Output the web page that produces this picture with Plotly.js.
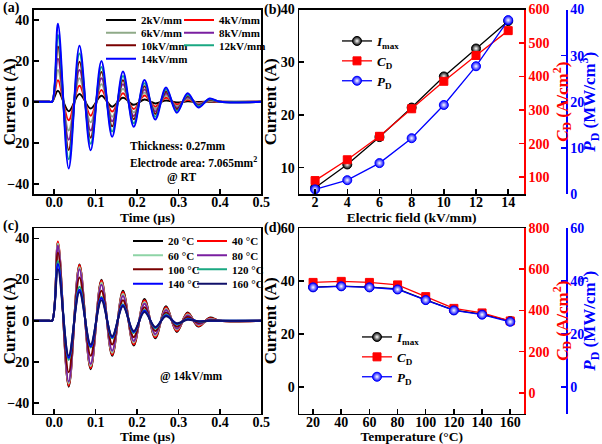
<!DOCTYPE html>
<html>
<head>
<meta charset="utf-8">
<script src="https://cdn.plot.ly/plotly-3.0.1.min.js"></script>
<style>html,body{margin:0;padding:0;background:#fff;}#chart{width:602px;height:444px;}</style>
</head>
<body>
<div id="chart"></div>
<script>
// ---------- data ----------
// times (µs) of the flat start, the successive extrema, and the flat end
const tWave = [-0.05, -0.012, -0.005, 0.009, 0.035, 0.061, 0.088, 0.114, 0.140, 0.166, 0.192, 0.218, 0.244, 0.270, 0.296, 0.322, 0.348, 0.375, 0.40, 0.5];
// panel (a): extrema of the discharge current for each field (A)
const kv2  = [5.4, -4.6, 3.8, -3.3, 2.9, -2.4, 2.0, -1.5, 1.1, -0.8, 0.6, -0.4, 0.2, -0.1, 0];
const kv4  = [10.5, -9.0, 7.8, -6.8, 5.7, -4.8, 4.2, -3.5, 3.0, -2.4, 2.0, -1.4, 1.0, -0.6, 0.3];
const kv6  = [15.5, -14.0, 11.5, -10.0, 8.5, -7.3, 6.3, -5.2, 4.5, -3.5, 3.0, -2.2, 1.6, -1.0, 0.5];
const kv8  = [21.0, -18.5, 15.5, -14.0, 11.5, -9.5, 8.5, -7.0, 6.0, -4.7, 4.0, -3.0, 2.2, -1.4, 0.8];
const kv10 = [27.0, -23.5, 19.5, -17.5, 14.5, -12.0, 10.5, -8.5, 7.5, -6.0, 5.0, -3.7, 2.8, -1.8, 1.0];
const kv12 = [32.5, -28.0, 23.5, -20.5, 17.0, -14.5, 12.5, -10.5, 9.0, -7.3, 6.0, -4.5, 3.3, -2.2, 1.2];
const kv14 = [38.0, -32.5, 27.3, -23.7, 19.9, -17.1, 14.7, -12.2, 10.6, -8.7, 7.0, -5.4, 4.1, -2.8, 1.6];
const fieldNames = ['2kV/mm', '4kV/mm', '6kV/mm', '8kV/mm', '10kV/mm', '12kV/mm', '14kV/mm'];
// panel (c): extrema of the discharge current at 14 kV/mm for each temperature (A)
const c20  = [38.0, -32.0, 27.3, -23.5, 19.9, -17.0, 14.5, -12.0, 10.5, -8.5, 7.0, -5.4, 4.0, -2.8, 1.5];
const c40  = [38.5, -31.5, 27.0, -23.0, 19.5, -16.5, 14.0, -11.5, 10.0, -8.0, 6.5, -5.0, 3.6, -2.5, 1.2];
const c60  = [37.5, -30.5, 26.0, -22.0, 18.5, -15.5, 13.0, -10.5, 9.0, -7.2, 5.8, -4.3, 3.0, -2.0, 0.8];
const c80  = [36.5, -29.5, 25.0, -21.0, 17.5, -14.5, 12.0, -9.8, 8.2, -6.5, 5.2, -3.8, 2.6, -1.6, 0.6];
const c100 = [33.0, -25.0, 21.0, -17.0, 14.5, -11.5, 10.0, -8.0, 6.5, -5.0, 4.0, -2.8, 1.8, -1.0, 0.3];
const c120 = [29.0, -19.0, 16.5, -13.0, 11.5, -8.5, 8.0, -6.0, 5.2, -3.8, 3.0, -1.8, 1.0, -0.4, 0];
const c140 = [27.5, -18.0, 15.0, -12.5, 11.0, -8.0, 7.5, -5.5, 4.8, -3.3, 2.5, -1.4, 0.7, -0.3, 0];
const c160 = [25.0, -17.0, 14.0, -11.5, 10.0, -7.5, 7.0, -5.0, 4.2, -3.0, 2.2, -1.2, 0.5, -0.2, 0];
const tempNames = ['20 °C', '40 °C', '60 °C', '80 °C', '100 °C', '120 °C', '140 °C', '160 °C'];
// panel (b)
const field = [2, 4, 6, 8, 10, 12, 14];
const imaxE = [6.2, 10.6, 15.8, 21.4, 27.3, 32.6, 37.8];
const cdE   = [90, 152, 222, 304, 386, 463, 537];
const pdE   = [1.0, 3.0, 6.7, 12.1, 19.3, 27.7, 37.7];
// panel (d)
const temp  = [20, 40, 60, 80, 100, 120, 140, 160];
const imaxT = [37.7, 38.1, 37.7, 37.0, 32.9, 29.0, 27.5, 24.9];
const cdT   = [536, 541, 536, 524, 467, 410, 388, 349];
const pdT   = [37.6, 38.0, 37.6, 36.8, 32.8, 28.9, 27.3, 24.6];

// ---------- styling ----------
const F = 'Liberation Serif';
const W = 602, H = 444;
const px = v => v / W, py = v => 1 - v / H;
const waveColorsA = ['#000000', '#ff0000', '#8faa88', '#7a1fa0', '#7a0000', '#1aa882', '#0000ff'];
const waveColorsC = ['#000000', '#ff0000', '#8ed4a6', '#7a1fa0', '#7a0000', '#1aa882', '#0000ff', '#10106a'];

function wave(vals) { return [0, 0, 0].concat(vals, [0, 0]); }

const traces = [];
[kv2, kv4, kv6, kv8, kv10, kv12, kv14].forEach((v, i) => {
  traces.push({x: tWave, y: wave(v), xaxis: 'x', yaxis: 'y', type: 'scatter', mode: 'lines',
    line: {color: waveColorsA[i], width: 2, shape: 'spline', smoothing: 1},
    name: fieldNames[i], legend: 'legend' + (i === 0 ? '' : (i + 1))});
});
[c20, c40, c60, c80, c100, c120, c140, c160].forEach((v, i) => {
  traces.push({x: tWave, y: wave(v), xaxis: 'x3', yaxis: 'y5', type: 'scatter', mode: 'lines',
    line: {color: waveColorsC[i], width: 2, shape: 'spline', smoothing: 1},
    name: tempNames[i], legend: 'legend' + (8 + i)});
});
function markerSeries(x, y, xa, ya, name, color, symbol, leg) {
  return {x: x, y: y, xaxis: xa, yaxis: ya, type: 'scatter', mode: 'lines+markers', name: name, legend: leg,
    line: {color: color, width: 1.3},
    marker: {symbol: symbol, size: symbol === 'square' ? 8 : 9, color: color,
             gradient: symbol === 'square' ? undefined : {type: 'radial', color: '#ffffff'},
             line: {color: color, width: 1}}};
}
traces.push(markerSeries(field, imaxE, 'x2', 'y2', '<i>I</i><sub>max</sub>', '#000000', 'circle', 'legend16'));
traces.push(markerSeries(field, cdE, 'x2', 'y3', '<i>C</i><sub>D</sub>', '#ff0000', 'square', 'legend16'));
traces.push(markerSeries(field, pdE, 'x2', 'y4', '<i>P</i><sub>D</sub>', '#0000ff', 'circle', 'legend16'));
traces.push(markerSeries(temp, imaxT, 'x4', 'y6', '<i>I</i><sub>max</sub>', '#000000', 'circle', 'legend17'));
traces.push(markerSeries(temp, cdT, 'x4', 'y7', '<i>C</i><sub>D</sub>', '#ff0000', 'square', 'legend17'));
traces.push(markerSeries(temp, pdT, 'x4', 'y8', '<i>P</i><sub>D</sub>', '#0000ff', 'circle', 'legend17'));

const tickFont = c => ({family: F, size: 14, weight: 'bold', color: c || '#000'});
function axis(o, color) {
  const c = color || '#000';
  const base = {showline: true, linecolor: c, linewidth: 1.5, ticks: 'inside', ticklen: 5, tickwidth: 1.5,
    tickcolor: c, showgrid: false, zeroline: false, tickfont: tickFont(c), automargin: false,
    minor: {ticks: 'inside', ticklen: 3, tickwidth: 1.2, tickcolor: c}};
  const r = Object.assign(base, o);
  if (o.minor) r.minor = Object.assign(base.minor, o.minor);
  return r;
}
const hTitle = (t) => ({text: t, font: {family: F, size: 13.5, weight: 'bold', color: '#000'}, standoff: 0});
const vTitle = (t, c, s) => ({text: t, font: {family: F, size: 17, weight: 'bold', color: c || '#000'}, standoff: s});

const topDom = [py(194), py(9.5)], botDom = [py(413.5), py(228)];
const leftDom = [px(33.5), px(261.3)], rightDom = [px(299), px(524.3)];
const xs = {ticklabelstandoff: -5};

const layout = {
  width: W, height: H, margin: {l: 0, r: 0, t: 0, b: 0},
  paper_bgcolor: '#fff', plot_bgcolor: 'rgba(0,0,0,0)',
  font: {family: F, size: 13, color: '#000'},
  showlegend: true,
  xaxis: axis(Object.assign({domain: leftDom, anchor: 'y', range: [-0.05, 0.5], tick0: 0, dtick: 0.1, tickformat: '.1f', minor: {dtick: 0.05}, mirror: true, title: hTitle('Time (μs)')}, xs)),
  yaxis: axis({domain: topDom, anchor: 'x', range: [-45, 45], tick0: 0, dtick: 20, minor: {dtick: 10}, mirror: true, title: vTitle('Current (A)', '#000', 0)}),
  xaxis2: axis(Object.assign({domain: rightDom, anchor: 'y2', range: [1, 15], tick0: 2, dtick: 2, minor: {dtick: 1}, mirror: true, title: hTitle('Electric field (kV/mm)')}, xs)),
  yaxis2: axis({domain: topDom, anchor: 'x2', range: [5, 40], tick0: 0, dtick: 10, minor: {dtick: 5}, title: vTitle('Current (A)', '#000', 0)}),
  yaxis3: axis({overlaying: 'y2', side: 'right', anchor: 'x2', range: [50, 600], tick0: 0, dtick: 100, minor: {dtick: 50}, title: vTitle('<i>C</i><sub>D</sub> (A/cm<sup>2</sup>)', '#ff0000', 0)}, '#ff0000'),
  yaxis4: axis({overlaying: 'y2', side: 'right', anchor: 'free', position: px(566), range: [0, 40], tick0: 0, dtick: 10, minor: {dtick: 5}, title: vTitle('<i>P</i><sub>D</sub> (MW/cm<sup>3</sup>)', '#0000ff', 0)}, '#0000ff'),
  xaxis3: axis(Object.assign({domain: leftDom, anchor: 'y5', range: [-0.05, 0.5], tick0: 0, dtick: 0.1, tickformat: '.1f', minor: {dtick: 0.05}, mirror: true, title: hTitle('Time (μs)')}, xs)),
  yaxis5: axis({domain: botDom, anchor: 'x3', range: [-45, 45], tick0: 0, dtick: 20, minor: {dtick: 10}, mirror: true, title: vTitle('Current (A)', '#000', 0)}),
  xaxis4: axis(Object.assign({domain: rightDom, anchor: 'y6', range: [10, 170], tick0: 0, dtick: 20, minor: {dtick: 10}, mirror: true, title: hTitle('Temperature (°C)')}, xs)),
  yaxis6: axis({domain: botDom, anchor: 'x4', range: [-10, 60], tick0: 0, dtick: 20, minor: {dtick: 10}, title: vTitle('Current (A)', '#000', 0)}),
  yaxis7: axis({overlaying: 'y6', side: 'right', anchor: 'x4', range: [-100, 800], tick0: 0, dtick: 200, minor: {dtick: 100}, title: vTitle('<i>C</i><sub>D</sub> (A/cm<sup>2</sup>)', '#ff0000', 0)}, '#ff0000'),
  yaxis8: axis({overlaying: 'y6', side: 'right', anchor: 'free', position: px(566), range: [-10, 60], tick0: 0, dtick: 20, minor: {dtick: 10}, title: vTitle('<i>P</i><sub>D</sub> (MW/cm<sup>3</sup>)', '#0000ff', 0)}, '#0000ff'),
  annotations: [
    {text: '(a)', x: px(1), y: py(8), xref: 'paper', yref: 'paper', xanchor: 'left', yanchor: 'middle', showarrow: false, font: {family: F, size: 14, weight: 'bold'}},
    {text: '(b)', x: px(262), y: py(10), xref: 'paper', yref: 'paper', xanchor: 'left', yanchor: 'middle', showarrow: false, font: {family: F, size: 14, weight: 'bold'}},
    {text: '(c)', x: px(1), y: py(226), xref: 'paper', yref: 'paper', xanchor: 'left', yanchor: 'middle', showarrow: false, font: {family: F, size: 14, weight: 'bold'}},
    {text: '(d)', x: px(262), y: py(228), xref: 'paper', yref: 'paper', xanchor: 'left', yanchor: 'middle', showarrow: false, font: {family: F, size: 14, weight: 'bold'}},
    {text: 'Thickness: 0.27mm', x: px(128), y: py(146), xref: 'paper', yref: 'paper', xanchor: 'left', yanchor: 'middle', showarrow: false, font: {family: F, size: 11.5, weight: 'bold'}},
    {text: 'Electrode area: 7.065mm<sup>2</sup>', x: px(128), y: py(162), xref: 'paper', yref: 'paper', xanchor: 'left', yanchor: 'middle', showarrow: false, font: {family: F, size: 11.5, weight: 'bold'}},
    {text: '@ RT', x: px(165), y: py(177), xref: 'paper', yref: 'paper', xanchor: 'left', yanchor: 'middle', showarrow: false, font: {family: F, size: 11.5, weight: 'bold'}},
    {text: '@ 14kV/mm', x: px(158), y: py(376), xref: 'paper', yref: 'paper', xanchor: 'left', yanchor: 'middle', showarrow: false, font: {family: F, size: 11.5, weight: 'bold'}}
  ]
};

function leg(xText, yMid, size) {
  return {x: px(xText - 40), y: py(yMid), xanchor: 'left', yanchor: 'middle', bgcolor: 'rgba(0,0,0,0)',
    borderwidth: 0, itemwidth: 30, font: {family: F, size: size || 11, weight: 'bold', color: '#000'}};
}
// panel (a) legend: two columns
const aRows = [20, 32.7, 45.3, 58.7];
const aCols = [141, 219];
const aPos = [[aCols[0], aRows[0]], [aCols[1], aRows[0]], [aCols[0], aRows[1]], [aCols[1], aRows[1]], [aCols[0], aRows[2]], [aCols[1], aRows[2]], [aCols[0], aRows[3]]];
aPos.forEach((p, i) => { layout['legend' + (i === 0 ? '' : (i + 1))] = leg(p[0], p[1]); });
// panel (c) legend: two columns
const cRows = [241, 255.3, 269.3, 283.7];
const cCols = [168, 232];
for (let i = 0; i < 8; i++) {
  layout['legend' + (8 + i)] = leg(cCols[i % 2], cRows[Math.floor(i / 2)]);
}
layout.legend16 = leg(377, 61, 13);
layout.legend17 = leg(397, 357, 13);

Plotly.newPlot('chart', traces, layout, {staticPlot: true, displayModeBar: false});
</script>
</body>
</html>
